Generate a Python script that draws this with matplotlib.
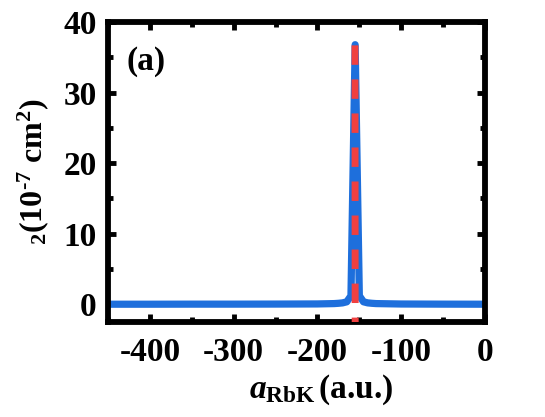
import matplotlib
matplotlib.use("Agg")
import matplotlib.pyplot as plt
from matplotlib.ticker import MultipleLocator

plt.rcParams['font.family'] = ['Liberation Serif', 'DejaVu Serif']
plt.rcParams['font.weight'] = 'bold'
plt.rcParams['axes.unicode_minus'] = False
plt.rcParams['mathtext.fontset'] = 'custom'
plt.rcParams['mathtext.rm'] = 'Liberation Serif:bold'
plt.rcParams['mathtext.it'] = 'Liberation Serif:bold:italic'
plt.rcParams['mathtext.bf'] = 'Liberation Serif:bold'

# Blue solid curve (a_RbK in a.u., sigma_2 in 1e-7 cm^2)
blue_x = [-450, -400, -350, -300, -250, -200, -180, -175, -170, -165, -160,
          -155, -150, -145, -140, -135, -130, -100, -50, 0]
blue_y = [0.01, 0.01, 0.02, 0.02, 0.03, 0.05, 0.10, 0.14, 0.20, 0.35, 1.2,
          36.8, 1.2, 0.35, 0.20, 0.14, 0.10, 0.04, 0.02, 0.01]

# Red dashed curve
red_x = [-155.2, -155.1, -155.0, -154.9]
red_y = [36.7, 20.0, 2.0, -8.0]

fig = plt.figure(figsize=(5.45, 4.17), dpi=100)
ax = fig.add_axes([0.198, 0.228, 0.692, 0.719])

ax.plot(blue_x, blue_y, color='#1e6fdc', lw=5.2, solid_capstyle='round',
        solid_joinstyle='round', zorder=2)
ax.plot(red_x, red_y, color='#f04040', lw=5.0, ls=(0, (2.8, 2.1)), zorder=3)

ax.set_xlim(-450, 0)
ax.set_ylim(-2.5, 40)
ax.xaxis.set_major_locator(MultipleLocator(100))
ax.xaxis.set_minor_locator(MultipleLocator(50))
ax.yaxis.set_major_locator(MultipleLocator(10))
ax.yaxis.set_minor_locator(MultipleLocator(5))
ax.tick_params(which='both', direction='in', top=True, right=True, width=3.5,
               labelsize=24)
ax.tick_params(axis='x', pad=11)
ax.tick_params(axis='y', pad=8)
ax.tick_params(which='major', length=6)
ax.tick_params(which='minor', length=3.5)
for s in ax.spines.values():
    s.set_linewidth(4.2)
for lab in ax.get_xticklabels() + ax.get_yticklabels():
    lab.set_fontweight('bold')

ax.set_xlabel(r'$a_{\mathrm{RbK}}\,$(a.u.)', fontsize=24, fontweight='bold')
ax.xaxis.set_label_coords(0.565, -0.17)
ax.set_ylabel('$_{\\regular{2}}$(10$^{\\mathrm{\u2010}7}$ cm$^{2}$)', fontsize=23,
              fontweight='bold')
ax.yaxis.set_label_coords(-0.15, 0.5)
ax.text(0.048, 0.87, '(a)', transform=ax.transAxes, fontsize=24, fontweight='bold',
        va='center', ha='left')

fig.savefig('out.png', dpi=100)
